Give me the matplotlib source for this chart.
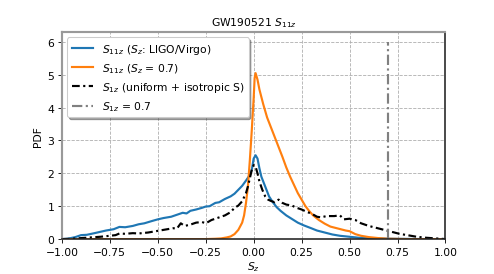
import matplotlib
matplotlib.use("Agg")
import matplotlib.pyplot as plt

# ---- data ----
blue_x = [-1.0,-0.97,-0.93,-0.9,-0.87,-0.83,-0.8,-0.77,-0.73,-0.7,-0.67,-0.63,-0.6,-0.57,-0.53,-0.5,
          -0.47,-0.43,-0.4,-0.37,-0.35,-0.33,-0.3,-0.27,-0.25,-0.23,-0.2,-0.18,-0.15,-0.12,-0.1,-0.08,
          -0.06,-0.04,-0.02,-0.01,0.0,0.01,0.02,0.03,0.04,0.06,0.08,0.1,0.12,0.14,0.17,0.2,0.23,0.26,
          0.3,0.33,0.37,0.41,0.45,0.5,0.55,0.6,0.65,0.7,0.8,0.9,1.0]
blue_y = [0,0.01,0.06,0.12,0.13,0.18,0.22,0.26,0.3,0.37,0.36,0.4,0.45,0.48,0.55,0.6,
          0.64,0.68,0.74,0.8,0.78,0.86,0.9,0.95,0.99,1.0,1.1,1.12,1.22,1.3,1.38,1.5,
          1.62,1.78,1.95,2.1,2.45,2.55,2.45,2.15,1.9,1.6,1.3,1.12,0.97,0.86,0.72,0.61,0.5,0.42,
          0.33,0.26,0.2,0.14,0.1,0.07,0.04,0.03,0.02,0.01,0.005,0,0]

orange_x = [-1.0,-0.5,-0.25,-0.2,-0.17,-0.14,-0.12,-0.1,-0.08,-0.06,-0.05,-0.04,-0.03,-0.02,-0.01,0.0,
            0.005,0.01,0.02,0.03,0.05,0.07,0.09,0.11,0.13,0.15,0.17,0.19,0.21,0.23,0.25,0.27,0.29,
            0.31,0.34,0.37,0.4,0.44,0.48,0.5,0.53,0.56,0.6,0.65,0.7,0.8,1.0]
orange_y = [0,0,0,0.01,0.02,0.05,0.08,0.15,0.28,0.5,0.72,1.1,1.6,2.4,3.3,4.3,
            4.9,5.05,4.85,4.55,4.1,3.7,3.4,3.1,2.8,2.5,2.18,1.9,1.65,1.4,1.2,1.0,0.85,
            0.72,0.58,0.47,0.38,0.32,0.26,0.24,0.15,0.1,0.06,0.03,0.01,0,0]

black_x = [-1.0,-0.95,-0.9,-0.85,-0.8,-0.75,-0.72,-0.7,-0.67,-0.63,-0.6,-0.55,-0.5,-0.45,-0.42,-0.4,
           -0.38,-0.36,-0.33,-0.3,-0.27,-0.25,-0.22,-0.2,-0.17,-0.15,-0.12,-0.1,-0.08,-0.06,-0.04,
           -0.03,-0.02,-0.01,0.0,0.01,0.02,0.03,0.045,0.06,0.075,0.09,0.11,0.13,0.15,0.17,0.2,0.22,
           0.25,0.28,0.3,0.33,0.35,0.38,0.42,0.45,0.47,0.5,0.53,0.56,0.6,0.64,0.68,0.72,0.76,0.8,
           0.85,0.9,0.95,1.0]
black_y = [0,0.01,0.03,0.05,0.07,0.1,0.12,0.17,0.16,0.18,0.17,0.2,0.25,0.3,0.33,0.32,
           0.48,0.4,0.44,0.5,0.52,0.48,0.58,0.62,0.68,0.72,0.82,0.95,1.02,1.15,1.4,
           1.6,1.85,2.1,2.25,2.2,2.0,1.75,1.5,1.3,1.2,1.16,1.12,1.2,1.1,1.05,1.02,0.96,
           0.9,0.82,0.78,0.68,0.66,0.7,0.7,0.72,0.6,0.62,0.58,0.48,0.4,0.34,0.28,0.22,0.16,0.12,
           0.07,0.04,0.02,0]

gray_x = [0.7, 0.7]
gray_y = [0, 6]

labels = [r"$S_{11z}$ ($S_z$: LIGO/Virgo)", r"$S_{11z}$ ($S_z$ = 0.7)",
          r"$S_{1z}$ (uniform + isotropic S)", r"$S_{1z}$ = 0.7"]

# ---- plot ----
fig = plt.figure(figsize=(6.4, 3.5556), dpi=77.34)
ax = fig.add_axes([0.125, 0.127, 0.775, 0.753])
dd_black = (0, (3.6, 1.6, 1.0, 1.6))
dd_gray = (0, (4.8, 1.6, 1.0, 1.6))
ax.plot(blue_x, blue_y, color="#1f77b4", lw=2, label=labels[0])
ax.plot(orange_x, orange_y, color="#ff7f0e", lw=2, label=labels[1])
ax.plot(black_x, black_y, color="black", lw=2, linestyle=dd_black, label=labels[2])
ax.plot(gray_x, gray_y, color="gray", lw=2, linestyle=dd_gray, label=labels[3])

ax.set_xlim(-1, 1)
ax.set_ylim(0, 6.3)
ax.set_xticks([-1, -0.75, -0.5, -0.25, 0, 0.25, 0.5, 0.75, 1.0])
ax.set_yticks([0, 1, 2, 3, 4, 5, 6])
ax.grid(True, linestyle="--", color="#b0b0b0", lw=0.8)
ax.set_axisbelow(True)
for s in ["top", "left"]:
    ax.spines[s].set_color("#999999")
    ax.spines[s].set_linewidth(2)
for s in ["right", "bottom"]:
    ax.spines[s].set_color("#222222")
    ax.spines[s].set_linewidth(1.5)

ax.set_title(r"GW190521 $S_{11z}$", fontsize=10)
ax.set_xlabel(r"$S_z$", fontsize=10, labelpad=2)
ax.set_ylabel("PDF", fontsize=10)
ax.legend(loc="upper left", shadow=True, fontsize=10, framealpha=1)

fig.savefig("out.png", dpi=77.34)
